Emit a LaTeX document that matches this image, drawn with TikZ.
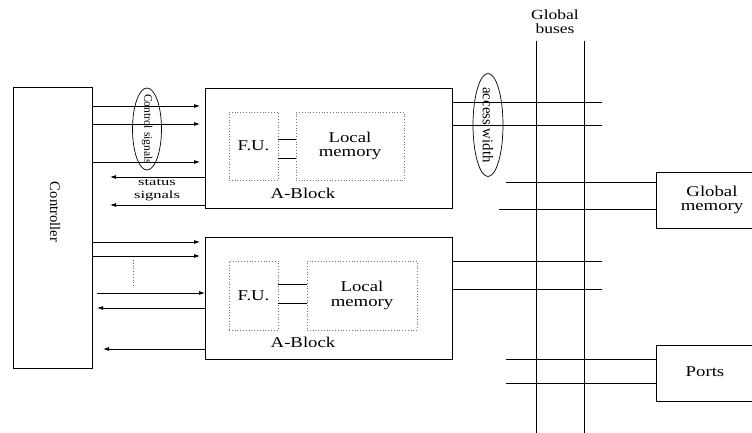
\documentclass[tikz,border=0pt]{standalone}
\usepackage{fontspec}
\setmainfont{Liberation Serif}
\newfontfamily\widefont[FakeStretch=1.25]{Liberation Serif}
\newfontfamily\statfont[FakeStretch=1.5]{Liberation Serif}
\usetikzlibrary{arrows.meta,shapes.geometric}

\tikzset{
  box/.style={draw,line width=0.8pt,inner sep=0pt,outer sep=0pt,align=center},
  unitbox/.style={draw,dotted,black!55,line width=0.8pt,inner sep=0pt,outer sep=0pt,text=black,align=center},
  tag/.style={draw,ellipse,line width=0.7pt,inner sep=0pt,outer sep=0pt},
  wire/.style={line width=0.8pt},
  sidetext/.style={rotate=-90,inner sep=0pt},
}

\begin{document}
\begin{tikzpicture}[x=1pt,y=-1pt,>={Latex[length=6pt,width=4pt]},font=\widefont\fontsize{15}{14.5}\selectfont]
  \clip (0,0) rectangle (752,433);
  % controller
  \node[box,minimum width=79pt,minimum height=281pt] (ctrl) at (52.5,227.5) {};
  \node[sidetext,font=\rmfamily\fontsize{14.6}{15}\selectfont] (ctrltxt) at (55,212) {Controller};

  % upper A-block
  \node[box,minimum width=247pt,minimum height=120pt] (blkA) at (328.5,148) {};
  \node[unitbox,minimum width=49pt,minimum height=68pt] (fuA) at (253.5,146) {F.U.};
  \node[unitbox,minimum width=108pt,minimum height=68pt] (lmA) at (350,146) {Local\\memory};
  \node (blkAtxt) at (303,193) {A-Block};
  \foreach \yy in {139,158}
    \draw[wire] (fuA.east |- 0,\yy) -- (lmA.west |- 0,\yy);

  % lower A-block
  \node[box,minimum width=247pt,minimum height=122pt] (blkB) at (328.5,298) {};
  \node[unitbox,minimum width=49pt,minimum height=69pt] (fuB) at (253.5,295.5) {F.U.};
  \node[unitbox,minimum width=110pt,minimum height=69pt] (lmB) at (362,295.5) {Local\\memory};
  \node (blkBtxt) at (303,342) {A-Block};
  \foreach \yy in {284,303}
    \draw[wire] (fuB.east |- 0,\yy) -- (lmB.west |- 0,\yy);

  % global memory and ports
  \node[box,minimum width=110pt,minimum height=56pt,anchor=west] (gmem) at (656,200) {};
  \node[align=center] (gmemtxt) at (712,200) {Global\\memory};
  \node[box,minimum width=110pt,minimum height=56pt,anchor=west] (ports) at (656,373) {};
  \node (portstxt) at (705,372) {Ports};

  % control and status signals
  \foreach \yy in {106,124,162}
    \draw[wire,->,shorten >=5pt] (ctrl.east |- 0,\yy) -- (blkA.west |- 0,\yy);
  \foreach \yy in {177,205}
    \draw[wire,->,shorten >=18pt] (blkA.west |- 0,\yy) -- (ctrl.east |- 0,\yy);
  \node[tag,minimum width=29pt,minimum height=82pt] (ctlsig) at (147,129) {};
  \node[sidetext,font=\rmfamily\fontsize{11.5}{12}\selectfont] (ctlsigtxt) at (ctlsig) {Control signals};
  \node[align=center,inner sep=0pt,font=\statfont\fontsize{11}{12.5}\selectfont] (stattxt) at (157,190) {status\\signals};

  \foreach \yy in {242,256}
    \draw[wire,->,shorten >=5pt] (ctrl.east |- 0,\yy) -- (blkB.west |- 0,\yy);
  \draw[wire,->,shorten <=5pt] (ctrl.east |- 0,293) -- (blkB.west |- 0,293);
  \draw[wire,->,shorten >=5pt] (blkB.west |- 0,308) -- (ctrl.east |- 0,308);
  \draw[wire,->,shorten >=11pt] (blkB.west |- 0,349) -- (ctrl.east |- 0,349);
  \draw[wire,dotted,black!60] (133,260) -- (133,287);

  % global buses
  \node[align=center,font=\widefont\fontsize{14}{14}\selectfont] (busttl) at (555,22) {Global\\buses};
  \coordinate (busL) at (536,41);
  \coordinate (busR) at (584,41);
  \coordinate (busend) at (602,0);
  \draw[wire] (busL) -- (busL |- 0,440);
  \draw[wire] (busR) -- (busR |- 0,440);
  \foreach \yy in {102,125}
    \draw[wire] (blkA.east |- 0,\yy) -- (busend |- 0,\yy);
  \foreach \yy in {261,289}
    \draw[wire] (blkB.east |- 0,\yy) -- (busend |- 0,\yy);
  \node[tag,minimum width=30pt,minimum height=103pt] (accw) at (488,125) {};
  \node[sidetext,font=\rmfamily\fontsize{14.8}{15}\selectfont] (accwtxt) at (accw) {access width};
  \coordinate (tapA) at (506,0);
  \coordinate (tapB) at (499,0);
  \draw[wire] (tapA |- 0,182) -- (gmem.west |- 0,182);
  \draw[wire] (tapB |- 0,209) -- (gmem.west |- 0,209);
  \draw[wire] (tapA |- 0,359) -- (ports.west |- 0,359);
  \draw[wire] (tapA |- 0,383) -- (ports.west |- 0,383);
\end{tikzpicture}
\end{document}
